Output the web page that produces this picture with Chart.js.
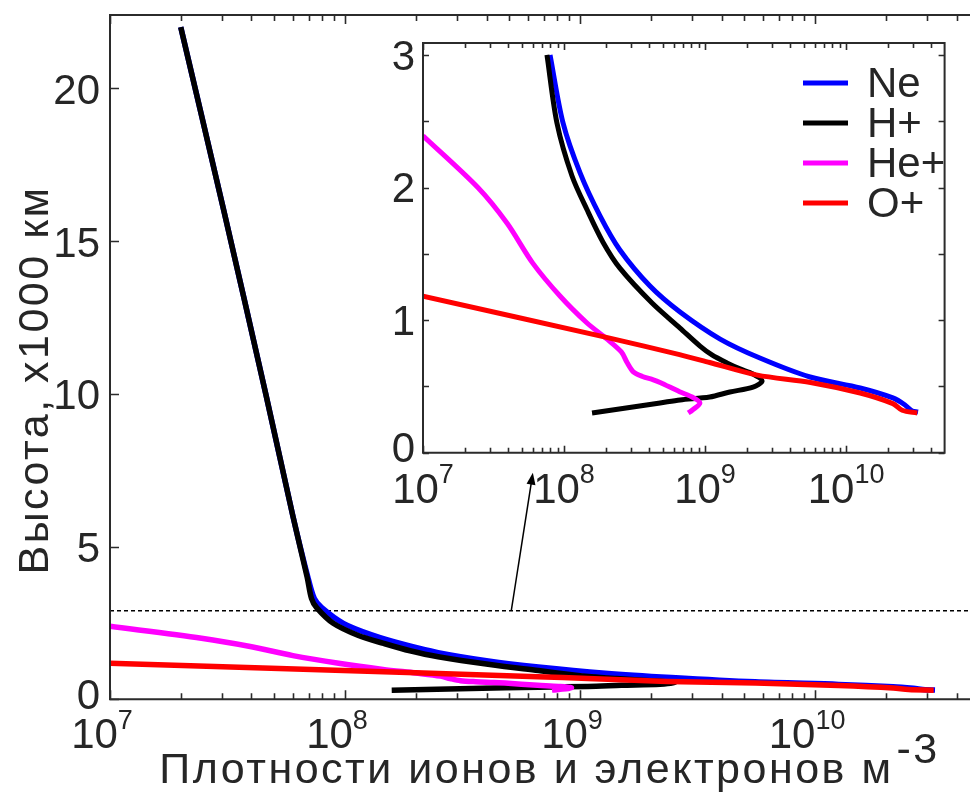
<!DOCTYPE html>
<html>
<head>
<meta charset="utf-8">
<script src="https://cdn.jsdelivr.net/npm/chart.js@4.4.0/dist/chart.umd.min.js"></script>
<style>
  html, body { margin: 0; padding: 0; background: #fff; overflow: hidden; }
  #wrap { position: relative; width: 970px; height: 792px; overflow: hidden; }
  #main { position: absolute; left: 0; top: 0; }
  #inset { position: absolute; left: 380px; top: 30px; }
</style>
</head>
<body>
<div id="wrap">
  <canvas id="main" width="990" height="792"></canvas>
  <canvas id="inset" width="590" height="490"></canvas>
</div>
<script>
// tick labels (powers of ten) and y ticks
const xTickExp = [7, 8, 9, 10];
const mainYTicks = [0, 5, 10, 15, 20];
const insetYTicks = [0, 1, 2, 3];
const insetYMinor = [0.5, 1.5, 2.5];

const seriesNames = ['Ne', 'H+', 'He+', 'O+'];
const seriesColors = ['#0000ff', '#000000', '#ff00ff', '#ff0000'];

// altitude (x1000 km) and density (m^-3)
const neAlt  = [22.0, 16, 10, 6, 4.0, 3.3, 3.0, 2.487, 2.11, 1.786, 1.529, 1.257, 1.061, 0.857, 0.714, 0.571, 0.488, 0.413, 0.36, 0.315, 0.307];
const neDens = [2.0e7, 3.05e7, 4.6e7, 6.0e7, 6.95e7, 7.4e7, 7.96e7, 9.84e7, 1.3e8, 1.8e8, 2.49e8, 4.07e8, 6.65e8, 1.28e9, 2.45e9, 5.56e9, 1.26e10, 2.15e10, 2.62e10, 2.94e10, 3.24e10];

const hAlt  = [22.0, 16, 10, 6, 4.0, 3.3, 3.0, 2.487, 2.087, 1.83, 1.588, 1.392, 1.129, 0.94, 0.804, 0.737, 0.677, 0.632, 0.594, 0.541, 0.495, 0.458, 0.42, 0.398, 0.375, 0.30];
const hDens = [2.0e7, 3.05e7, 4.6e7, 6.0e7, 6.9e7, 7.2e7, 7.57e7, 8.91e7, 1.14e8, 1.46e8, 1.89e8, 2.49e8, 4.21e8, 6.65e8, 9.22e8, 1.12e9, 1.43e9, 1.77e9, 2.19e9, 2.54e9, 2.19e9, 1.5e9, 1.08e9, 6.65e8, 4.8e8, 1.58e8];

const heAlt  = [2.39, 2.0, 1.73, 1.43, 1.18, 0.98, 0.86, 0.76, 0.68, 0.61, 0.575, 0.55, 0.53, 0.46, 0.42, 0.375, 0.32, 0.30];
const heDens = [1.0e7, 2.45e7, 3.95e7, 6.0e7, 9.4e7, 1.45e8, 2.0e8, 2.55e8, 2.8e8, 3.1e8, 3.6e8, 4.3e8, 4.8e8, 6.6e8, 8.1e8, 9.2e8, 8.1e8, 7.6e8];

const oAlt  = [1.18, 0.87, 0.74, 0.68, 0.585, 0.53, 0.45, 0.37, 0.32, 0.30];
const oDens = [1.0e7, 2.0e8, 6.6e8, 1.08e9, 2.35e9, 5.6e9, 1.26e10, 2.15e10, 2.5e10, 3.2e10];

// the inset shows the profiles up to this altitude
const insetTop = 3.0;

// dashed level of the zoom and the arrow to the inset
const guideAlt = 2.9;
const arrowStart = [5.1e8, 2.9];
const arrowEnd = [6.3e8, 7.42];

const FONT = '"Liberation Sans", Arial, sans-serif';
const AXIS = '#2b2b2b';

function pts(dens, alt, top) {
  return dens.map(function (v, i) { return { x: v, y: alt[i] }; })
    .filter(function (p) { return p.y <= top; });
}

function makeSets(width, top) {
  const all = [[neDens, neAlt], [hDens, hAlt], [heDens, heAlt], [oDens, oAlt]];
  const order = [3, 2, 1, 0];
  return all.map(function (s, i) {
    return {
      label: seriesNames[i],
      data: pts(s[0], s[1], top),
      showLine: true,
      borderColor: seriesColors[i],
      backgroundColor: seriesColors[i],
      borderWidth: width,
      pointRadius: 0,
      tension: 0.3,
      order: order[i],
      borderCapStyle: 'butt',
      borderJoinStyle: 'round'
    };
  });
}

function drawPow(ctx, cx, base, exp, size, raise) {
  ctx.font = size + 'px ' + FONT;
  const w1 = ctx.measureText('10').width;
  ctx.font = Math.round(size * 0.64) + 'px ' + FONT;
  const w2 = ctx.measureText(String(exp)).width;
  const start = cx - (w1 + w2) / 2;
  ctx.textAlign = 'left';
  ctx.textBaseline = 'alphabetic';
  ctx.font = size + 'px ' + FONT;
  ctx.fillText('10', start, base);
  ctx.font = Math.round(size * 0.64) + 'px ' + FONT;
  ctx.fillText(String(exp), start + w1, base - raise);
}

function drawAxes(chart, o) {
  const ctx = chart.ctx, a = chart.chartArea, x = chart.scales.x, y = chart.scales.y;
  ctx.save();
  ctx.strokeStyle = AXIS;
  ctx.lineWidth = 2;
  ctx.beginPath();
  ctx.moveTo(a.left, a.top); ctx.lineTo(a.right, a.top);
  ctx.moveTo(a.left, a.bottom); ctx.lineTo(a.right, a.bottom);
  ctx.moveTo(a.left, a.top - 1); ctx.lineTo(a.left, a.bottom + 1);
  if (o.right) { ctx.moveTo(a.right, a.top - 1); ctx.lineTo(a.right, a.bottom + 1); }
  ctx.stroke();

  // inward ticks
  ctx.lineWidth = 1.6;
  ctx.beginPath();
  xTickExp.forEach(function (e) {
    for (let m = 1; m <= 9; m++) {
      const v = m * Math.pow(10, e);
      if (v >= x.max) break;
      const px = Math.round(x.getPixelForValue(v)) + 0.5;
      const len = m === 1 ? o.major : o.minor;
      ctx.moveTo(px, a.bottom); ctx.lineTo(px, a.bottom - len);
      ctx.moveTo(px, a.top); ctx.lineTo(px, a.top + len);
    }
  });
  o.yTicks.concat(o.yMinor).forEach(function (v) {
    const py = Math.round(y.getPixelForValue(v)) + 0.5;
    ctx.moveTo(a.left, py); ctx.lineTo(a.left + o.ylen, py);
    if (o.right) { ctx.moveTo(a.right, py); ctx.lineTo(a.right - o.ylen, py); }
  });
  ctx.stroke();

  // labels
  ctx.fillStyle = '#262626';
  xTickExp.forEach(function (e) {
    drawPow(ctx, x.getPixelForValue(Math.pow(10, e)) + o.xShift, a.bottom + o.xBase, e, o.size, o.raise);
  });
  ctx.font = o.size + 'px ' + FONT;
  ctx.textAlign = 'right';
  ctx.textBaseline = 'middle';
  o.yTicks.forEach(function (v) {
    ctx.fillText(String(v), a.left - o.yGap, y.getPixelForValue(v) + (v === 0 ? o.zeroShift : o.yShift));
  });
  ctx.restore();
}

const mainPlugin = {
  id: 'mainDecor',
  beforeDatasetsDraw: function (chart) {
    const ctx = chart.ctx, a = chart.chartArea, y = chart.scales.y;
    ctx.save();
    ctx.strokeStyle = '#000';
    ctx.lineWidth = 1.5;
    ctx.setLineDash([4, 3]);
    const gy = y.getPixelForValue(guideAlt);
    ctx.beginPath();
    ctx.moveTo(a.left, gy); ctx.lineTo(a.right, gy);
    ctx.stroke();
    ctx.restore();
  },
  afterDraw: function (chart) {
    const ctx = chart.ctx, x = chart.scales.x, y = chart.scales.y;
    drawAxes(chart, { right: false, major: 9, minor: 6, yTicks: mainYTicks, yMinor: [], ylen: 9,
      size: 42, raise: 19, xBase: 49, xShift: -8, yGap: 10, yShift: 4, zeroShift: -2 });

    // arrow up to the inset
    const x0 = x.getPixelForValue(arrowStart[0]), y0 = y.getPixelForValue(arrowStart[1]);
    const x1 = x.getPixelForValue(arrowEnd[0]), y1 = y.getPixelForValue(arrowEnd[1]);
    const ang = Math.atan2(y1 - y0, x1 - x0);
    ctx.save();
    ctx.strokeStyle = '#000';
    ctx.fillStyle = '#000';
    ctx.lineWidth = 1.5;
    ctx.beginPath();
    ctx.moveTo(x0, y0); ctx.lineTo(x1 - 8 * Math.cos(ang), y1 - 8 * Math.sin(ang));
    ctx.stroke();
    ctx.beginPath();
    ctx.moveTo(x1, y1);
    ctx.lineTo(x1 - 12 * Math.cos(ang) + 4.5 * Math.sin(ang), y1 - 12 * Math.sin(ang) - 4.5 * Math.cos(ang));
    ctx.lineTo(x1 - 12 * Math.cos(ang) - 4.5 * Math.sin(ang), y1 - 12 * Math.sin(ang) + 4.5 * Math.cos(ang));
    ctx.closePath();
    ctx.fill();

    // axis titles
    ctx.fillStyle = '#262626';
    ctx.font = '43px ' + FONT;
    ctx.letterSpacing = '2.5px';
    ctx.textBaseline = 'alphabetic';
    ctx.textAlign = 'left';
    const t = 'Плотности ионов и электронов м';
    const tw = ctx.measureText(t).width;
    const sw = ctx.measureText('-3').width;
    const tx = 548 - (tw + sw) / 2;
    ctx.fillText(t, tx, 783);
    ctx.fillText('-3', tx + tw + 3, 763);

    ctx.translate(48, 380);
    ctx.rotate(-Math.PI / 2);
    ctx.textAlign = 'center';
    ctx.fillText('Высота, x1000 км', 0, 0);
    ctx.restore();
  }
};

const insetPlugin = {
  id: 'insetDecor',
  beforeDatasetsDraw: function (chart) {
    const ctx = chart.ctx, a = chart.chartArea;
    ctx.save();
    ctx.fillStyle = '#fff';
    ctx.fillRect(a.left, a.top, a.right - a.left, a.bottom - a.top);
    ctx.restore();
  },
  afterDraw: function (chart) {
    const ctx = chart.ctx;
    drawAxes(chart, { right: true, major: 7, minor: 5, yTicks: insetYTicks, yMinor: insetYMinor, ylen: 6,
      size: 42, raise: 20, xBase: 50, xShift: 0, yGap: 8, yShift: 3, zeroShift: -2 });

    // legend
    ctx.save();
    ctx.font = '42px ' + FONT;
    ctx.textAlign = 'left';
    ctx.textBaseline = 'middle';
    seriesNames.forEach(function (n, i) {
      const ly = 53 + i * 40;
      ctx.strokeStyle = seriesColors[i];
      ctx.lineWidth = 5;
      ctx.beginPath();
      ctx.moveTo(423, ly); ctx.lineTo(468, ly);
      ctx.stroke();
      ctx.fillStyle = '#262626';
      ctx.fillText(n, 487, ly + 2);
    });
    ctx.restore();
  }
};

new Chart(document.getElementById('main'), {
  type: 'scatter',
  data: { datasets: makeSets(5.5, Infinity) },
  options: {
    responsive: false,
    animation: false,
    layout: { padding: { left: 110, top: 15, right: 10.7, bottom: 92.7 } },
    plugins: { legend: { display: false }, tooltip: { enabled: false } },
    scales: {
      x: { type: 'logarithmic', min: 1e7, max: 5e10, display: false },
      y: { type: 'linear', min: 0, max: 22.4, display: false }
    }
  },
  plugins: [mainPlugin]
});

new Chart(document.getElementById('inset'), {
  type: 'scatter',
  data: { datasets: makeSets(5, insetTop) },
  options: {
    responsive: false,
    animation: false,
    layout: { padding: { left: 43, top: 13, right: 25.4, bottom: 67.3 } },
    plugins: { legend: { display: false }, tooltip: { enabled: false } },
    scales: {
      x: { type: 'logarithmic', min: 1e7, max: 5e10, display: false },
      y: { type: 'linear', min: 0, max: 3.09, display: false }
    }
  },
  plugins: [insetPlugin]
});
</script>
</body>
</html>
